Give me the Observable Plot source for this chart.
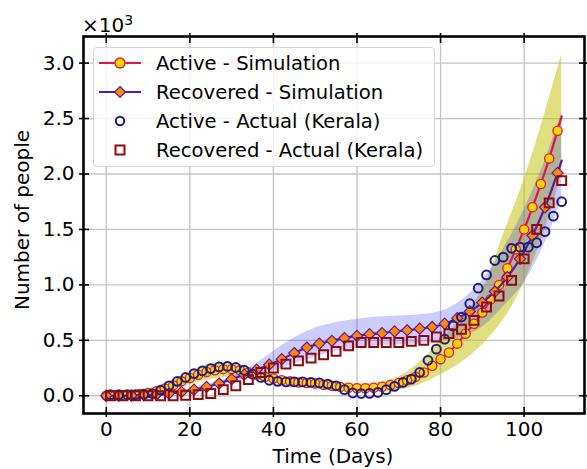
<!DOCTYPE html>
<html><head><meta charset="utf-8">
<script src="https://cdn.jsdelivr.net/npm/d3@7"></script>
<script src="https://cdn.jsdelivr.net/npm/@observablehq/plot@0.6"></script>
<style>
body{margin:0;background:#fff;font-family:"DejaVu Sans",sans-serif;}
#wrap{position:relative;width:587px;height:469px;overflow:hidden;background:#fff}
.lbl{position:absolute;font-size:20px;color:#000;white-space:nowrap;line-height:1}
#legend{position:absolute;left:93px;top:47px;width:342px;height:120px;border:1px solid #d6d6d6;border-radius:4px;background:rgba(255,255,255,0.8);box-sizing:border-box}
.row{position:absolute;left:0;height:29px;display:flex;align-items:center;font-size:19.6px;color:#000;white-space:nowrap}
.row svg{margin-left:5px;margin-right:13px}
</style></head><body>
<div id="wrap"></div>
<script>
// ---- data (values in thousands, axis shows x10^3) ----
const activeSimDays = [0,2,4,6,8,10,12,14,16,18,20,22,24,26,28,30,32,34,36,38,40,42,44,46,48,50,52,54,56,58,60,62,64,66,68,70,72,74,76,78,80,82,84,86,88,90,92,94,96,98,100,102,104,106,108,109];
const activeSimVals = [0,0,0.005,0.01,0.015,0.025,0.04,0.065,0.095,0.13,0.16,0.19,0.215,0.23,0.24,0.24,0.23,0.21,0.19,0.17,0.155,0.14,0.13,0.12,0.115,0.11,0.10,0.09,0.08,0.072,0.068,0.068,0.072,0.082,0.097,0.115,0.14,0.17,0.21,0.27,0.33,0.39,0.47,0.56,0.65,0.75,0.87,1.0,1.15,1.32,1.50,1.70,1.91,2.14,2.39,2.52];

const recSimDays = [0,3,6,9,12,15,18,21,24,27,30,33,36,39,42,45,48,51,54,57,60,63,66,69,72,75,78,81,84,87,90,93,96,99,102,105,108,109];
const recSimVals = [0,0,0.002,0.005,0.01,0.02,0.035,0.055,0.08,0.11,0.15,0.19,0.235,0.28,0.33,0.385,0.435,0.47,0.495,0.52,0.54,0.555,0.565,0.58,0.59,0.605,0.62,0.65,0.70,0.76,0.84,0.94,1.07,1.235,1.445,1.70,2.01,2.12];

const activeActDays = [1,3,5,7,9,11,13,15,17,19,21,23,25,27,29,31,33,35,37,39,41,43,45,47,49,51,53,55,57,59,61,63,65,67,69,71,73,75,77,79,81,83,85,87,89,91,93,95,97,99,101,103,105,107,109];
const activeActVals = [0.01,0.01,0.01,0.01,0.015,0.02,0.05,0.09,0.13,0.165,0.2,0.225,0.245,0.26,0.265,0.255,0.23,0.195,0.165,0.14,0.13,0.125,0.125,0.125,0.12,0.115,0.105,0.09,0.055,0.025,0.02,0.022,0.03,0.055,0.085,0.12,0.15,0.21,0.32,0.42,0.51,0.63,0.71,0.83,0.97,1.09,1.22,1.25,1.33,1.34,1.34,1.38,1.48,1.62,1.75];

const recActDays = [1,4,7,10,13,16,19,22,25,28,31,34,37,40,43,46,49,52,55,58,61,64,67,70,73,76,79,82,85,88,91,94,97,100,103,106,109];
const recActVals = [0,0,0,0,0,0,0.005,0.01,0.02,0.055,0.09,0.145,0.21,0.25,0.285,0.315,0.34,0.37,0.40,0.45,0.48,0.48,0.48,0.48,0.49,0.50,0.53,0.56,0.60,0.68,0.80,0.90,1.04,1.235,1.50,1.74,1.94];

const yellowBandDays = [0,5,10,15,20,25,30,35,40,45,50,55,60,65,70,75,80,85,90,95,100,105,109];
const yellowLo = [0,0.002,0.015,0.05,0.1,0.15,0.17,0.15,0.12,0.1,0.085,0.065,0.04,0.035,0.05,0.1,0.19,0.3,0.46,0.68,1.02,1.5,2.0];
const yellowHi = [0,0.01,0.04,0.12,0.21,0.29,0.29,0.25,0.19,0.155,0.135,0.12,0.11,0.12,0.17,0.3,0.5,0.7,0.95,1.45,1.95,2.55,3.08];

const blueBandDays = [20,25,30,35,40,45,50,55,60,65,70,75,80,85,90,95,100,105,109];
const blueLo = [0.05,0.08,0.12,0.17,0.22,0.29,0.35,0.40,0.43,0.45,0.46,0.47,0.49,0.53,0.62,0.8,1.02,1.38,1.78];
const blueHi = [0.07,0.11,0.17,0.27,0.40,0.52,0.61,0.66,0.69,0.71,0.72,0.73,0.76,0.86,1.04,1.32,1.68,2.12,2.55];

const xTicks = [0,20,40,60,80,100];
const yTicks = [0,0.5,1.0,1.5,2.0,2.5,3.0];

const legendLabels = ["Active - Simulation","Recovered - Simulation","Active - Actual (Kerala)","Recovered - Actual (Kerala)"];

// ---- styles ----
const RED = "#e0183f", GOLD = "#ffd400", PURPLE = "#5a1a9e", ORANGE = "#ff8a00", NAVY = "#1c1c80", DARKRED = "#8f0a0a";

const zip = (days, vals) => days.map((d, i) => ({day: d, value: vals[i]}));
const band = (days, lo, hi) => days.map((d, i) => ({day: d, lo: lo[i], hi: hi[i]}));

const activeSim = zip(activeSimDays, activeSimVals);
const recSim = zip(recSimDays, recSimVals);
const activeAct = zip(activeActDays, activeActVals);
const recAct = zip(recActDays, recActVals);
const yBand = band(yellowBandDays, yellowLo, yellowHi);
const bBand = band(blueBandDays, blueLo, blueHi);

const noLabel = () => "";
const plot = Plot.plot({
  width: 587, height: 469,
  marginLeft: 83, marginRight: 3, marginTop: 36, marginBottom: 56,
  x: {domain: [-5.45, 114.45]},
  y: {domain: [-0.16, 3.24]},
  style: {fontFamily: "DejaVu Sans", fontSize: "20px", color: "black", background: "white", overflow: "visible"},
  marks: [
    Plot.gridX(xTicks, {stroke: "#c4c4c4", strokeOpacity: 1, strokeWidth: 1.3}),
    Plot.gridY(yTicks, {stroke: "#c4c4c4", strokeOpacity: 1, strokeWidth: 1.3}),
    Plot.areaY(yBand, {x: "day", y1: "lo", y2: "hi", fill: "#bfbf00", fillOpacity: 0.5, curve: "catmull-rom"}),
    Plot.areaY(bBand, {x: "day", y1: "lo", y2: "hi", fill: "#0000ff", fillOpacity: 0.2, curve: "catmull-rom"}),
    Plot.line(activeSim, {x: "day", y: "value", stroke: RED, strokeWidth: 2.2, curve: "catmull-rom"}),
    Plot.dot(activeSim.filter(d => d.day % 2 === 0), {x: "day", y: "value", r: 4.6, fill: GOLD, stroke: RED, strokeWidth: 1.3}),
    Plot.line(recSim, {x: "day", y: "value", stroke: PURPLE, strokeWidth: 2.2, curve: "catmull-rom"}),
    Plot.dot(recSim.filter(d => d.day % 3 === 0), {x: "day", y: "value", symbol: "diamond2", r: 5, fill: ORANGE, stroke: PURPLE, strokeWidth: 1.2}),
    Plot.dot(activeAct, {x: "day", y: "value", r: 4.4, fill: "none", stroke: NAVY, strokeWidth: 2}),
    Plot.dot(recAct, {x: "day", y: "value", symbol: "square", r: 5, fill: "none", stroke: DARKRED, strokeWidth: 2}),
    Plot.frame({stroke: "black", strokeWidth: 2.6}),
    Plot.axisX(xTicks, {anchor: "bottom", tickSize: 0, tickPadding: 8, label: null}),
    Plot.axisX(xTicks, {anchor: "bottom", tickSize: 10, dy: -6, tickFormat: noLabel, label: null, strokeWidth: 1.6}),
    Plot.axisX(xTicks, {anchor: "top", tickSize: 10, dy: 6, tickFormat: noLabel, label: null, strokeWidth: 1.6}),
    Plot.axisY(yTicks, {anchor: "left", tickSize: 0, tickPadding: 9, tickFormat: d3.format(".1f"), label: null}),
    Plot.axisY(yTicks, {anchor: "left", tickSize: 10, dx: 6, tickFormat: noLabel, label: null, strokeWidth: 1.6}),
    Plot.axisY(yTicks, {anchor: "right", tickSize: 10, dx: -6, tickFormat: noLabel, label: null, strokeWidth: 1.6})
  ]
});

const wrap = document.getElementById("wrap");
wrap.appendChild(plot);

// axis labels and multiplier
function addLabel(html, css) {
  const el = document.createElement("div");
  el.className = "lbl";
  el.innerHTML = html;
  Object.assign(el.style, css);
  wrap.appendChild(el);
  return el;
}
addLabel("×10<sup style='font-size:14px;vertical-align:7px'>3</sup>", {left: "82px", top: "13px"});
addLabel("Number of people", {left: "22px", top: "220px", transform: "translate(-50%,-50%) rotate(-90deg)"});
addLabel("Time (Days)", {left: "333px", top: "456px", transform: "translate(-50%,-50%)"});

// legend
const legend = document.createElement("div");
legend.id = "legend";
wrap.appendChild(legend);
const symbols = [
  `<line x1="0" y1="10" x2="42" y2="10" stroke="${RED}" stroke-width="2.2"/><circle cx="21" cy="10" r="5" fill="${GOLD}" stroke="${RED}" stroke-width="1.3"/>`,
  `<line x1="0" y1="10" x2="42" y2="10" stroke="${PURPLE}" stroke-width="2.2"/><path d="M21 4.5 L26.5 10 L21 15.5 L15.5 10 Z" fill="${ORANGE}" stroke="${PURPLE}" stroke-width="1.2"/>`,
  `<circle cx="21" cy="10" r="4.2" fill="none" stroke="${NAVY}" stroke-width="2"/>`,
  `<rect x="16.5" y="5.5" width="9" height="9" fill="none" stroke="${DARKRED}" stroke-width="2"/>`
];
legendLabels.forEach((t, i) => {
  const row = document.createElement("div");
  row.className = "row";
  row.style.top = (0.5 + i * 29) + "px";
  row.innerHTML = `<svg width="44" height="20">${symbols[i]}</svg><span>${t}</span>`;
  legend.appendChild(row);
});
</script>
</body></html>
